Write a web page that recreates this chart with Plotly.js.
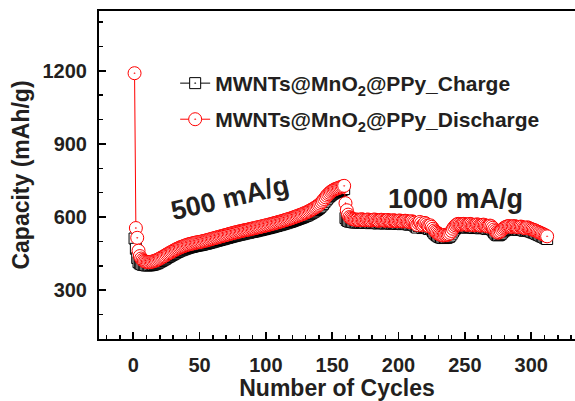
<!DOCTYPE html>
<html>
<head>
<meta charset="utf-8">
<script src="https://cdn.plot.ly/plotly-3.0.1.min.js"></script>
<style>html,body{margin:0;padding:0;background:#fff;}#chart{width:575px;height:401px;}</style>
</head>
<body>
<div id="chart"></div>
<script>
// Capacity (mAh/g) per cycle
const chargeCapacity = [
512,470,432,415,410,407,405,404,403,402,402,402,403,404,405,407,409,411,414,417,
420,423,426,429,433,436,439,442,445,448,451,454,457,459,462,464,466,468,470,472,
474,475,477,478,479,481,482,483,484,485,486,487,489,490,491,493,494,496,497,499,
500,502,503,505,506,508,509,511,512,514,515,517,518,520,521,523,524,525,527,528,
529,530,532,533,534,535,536,538,539,540,541,542,544,545,546,547,549,550,551,553,
554,555,557,558,560,561,563,564,566,567,569,570,572,574,575,577,579,580,582,584,
586,588,590,592,594,596,598,600,603,605,607,610,613,616,619,622,626,629,633,637,
642,648,654,661,668,675,681,686,691,695,698,701,703,705,707,709,711,713,715,
596,588,584,582,581,580,579,578,578,579,577,578,580,579,577,576,578,579,577,575,
576,578,579,577,575,574,576,578,577,575,574,576,577,575,573,574,576,575,573,572,
574,575,573,571,572,574,573,571,569,570,572,569,566,561,557,564,569,563,555,559,
565,560,554,551,555,549,541,534,529,525,521,518,516,515,514,516,515,517,519,524,
532,541,549,555,559,561,560,558,559,561,560,558,557,559,561,559,556,555,557,559,
558,555,554,556,558,556,553,551,552,554,551,545,538,532,527,525,527,531,537,542,
546,549,551,552,551,549,550,552,551,549,547,548,550,549,546,544,545,547,545,542,
540,538,536,534,531,529,526,524,521,519,516,513,510
];
const dischargeCapacity = [
1190,555,515,462,440,430,424,420,418,416,415,415,416,417,418,420,422,424,427,430,
433,436,439,442,446,449,452,455,458,461,464,467,470,472,475,477,479,481,483,485,
487,488,490,491,492,494,495,496,497,498,499,500,502,503,504,506,507,509,510,512,
513,515,516,518,519,521,522,524,525,527,528,530,531,533,534,536,537,538,540,541,
542,543,545,546,547,548,549,551,552,553,554,555,557,558,559,560,562,563,564,566,
567,568,570,571,573,574,576,577,579,580,582,583,585,587,588,590,592,593,595,597,
599,601,603,605,607,609,611,613,616,618,620,623,626,629,632,635,639,642,646,650,
655,661,667,674,681,688,694,699,704,708,711,714,716,718,720,722,724,726,728,
657,628,610,600,596,593,591,590,589,590,588,589,591,590,588,587,589,590,588,586,
587,589,590,588,586,585,587,589,588,586,585,587,588,586,584,585,587,586,584,583,
585,586,584,582,583,585,584,582,580,581,583,580,577,572,568,575,580,574,566,570,
576,571,565,562,566,560,552,545,540,536,532,529,527,526,525,527,526,528,530,535,
543,552,560,566,570,572,571,569,570,572,571,569,568,570,572,570,567,566,568,570,
569,566,565,567,569,567,564,562,563,565,562,556,549,543,538,536,538,542,548,553,
557,560,562,563,562,560,561,563,562,560,558,559,561,560,557,555,556,558,556,553,
551,549,547,545,542,540,537,535,532,530,527,524,521
];
const seriesNames = ['MWNTs@MnO<sub>2</sub>@PPy_Charge', 'MWNTs@MnO<sub>2</sub>@PPy_Discharge'];
const xTickValues = [0, 50, 100, 150, 200, 250, 300];
const yTickValues = [300, 600, 900, 1200];
const rateLabels = ['500 mA/g', '1000 mA/g'];
const rateLabelPos = [[72.7, 677], [243, 675]];

const cycles = chargeCapacity.map((_, i) => i + 1);
const ink = '#231f20';
const boldFont = (s) => ({family: 'Arial, "Liberation Sans", sans-serif', size: s, color: ink, weight: 'bold'});

const traces = [
  {
    x: cycles, y: chargeCapacity, name: seriesNames[0], type: 'scatter', mode: 'lines+markers',
    line: {color: '#000000', width: 1},
    marker: {symbol: 'square-dot', size: 11, color: '#ffffff', line: {color: '#000000', width: 1}},
    legend: 'legend'
  },
  {
    x: cycles, y: dischargeCapacity, name: seriesNames[1], type: 'scatter', mode: 'lines+markers',
    line: {color: '#ff0000', width: 1},
    marker: {symbol: 'circle-dot', size: 13, color: '#ffffff', line: {color: '#ff0000', width: 1}},
    legend: 'legend2'
  }
];

const axisCommon = {
  showgrid: false, zeroline: false, showline: true, linecolor: '#000', linewidth: 2,
  ticks: 'inside', ticklen: 7, tickwidth: 1.5, tickcolor: '#000',
  tickfont: boldFont(20)
};

const layout = {
  width: 575, height: 401,
  margin: {l: 99, r: 0, t: 11, b: 62, pad: 0},
  paper_bgcolor: '#fff', plot_bgcolor: '#fff',
  showlegend: true,
  xaxis: Object.assign({}, axisCommon, {
    range: [-25.8, 333], tickvals: xTickValues, mirror: true,
    minor: {dtick: 10, tick0: 0, ticks: 'inside', ticklen: 4, tickwidth: 1.5, tickcolor: '#000'},
    ticklabelstandoff: 7,
    title: {text: 'Number of Cycles', font: boldFont(23), standoff: 8}
  }),
  yaxis: Object.assign({}, axisCommon, {
    range: [100, 1445], tickvals: yTickValues,
    minor: {dtick: 100, tick0: 0, ticks: 'inside', ticklen: 4, tickwidth: 1.5, tickcolor: '#000'},
    ticklabelstandoff: 6,
    title: {text: 'Capacity (mAh/g)', font: boldFont(23), standoff: 6}
  }),
  legend: {x: 0.16, y: 0.779, xanchor: 'left', yanchor: 'middle', font: boldFont(21), bgcolor: 'rgba(0,0,0,0)', borderwidth: 0},
  legend2: {x: 0.16, y: 0.669, xanchor: 'left', yanchor: 'middle', font: boldFont(21), bgcolor: 'rgba(0,0,0,0)', borderwidth: 0},
  annotations: rateLabels.map((t, i) => ({
    text: t, x: rateLabelPos[i][0], y: rateLabelPos[i][1], xref: 'x', yref: 'y',
    showarrow: false, font: boldFont(27), textangle: i === 0 ? -13 : 0
  }))
};

Plotly.newPlot('chart', traces, layout, {displayModeBar: false, staticPlot: true});
</script>
</body>
</html>
